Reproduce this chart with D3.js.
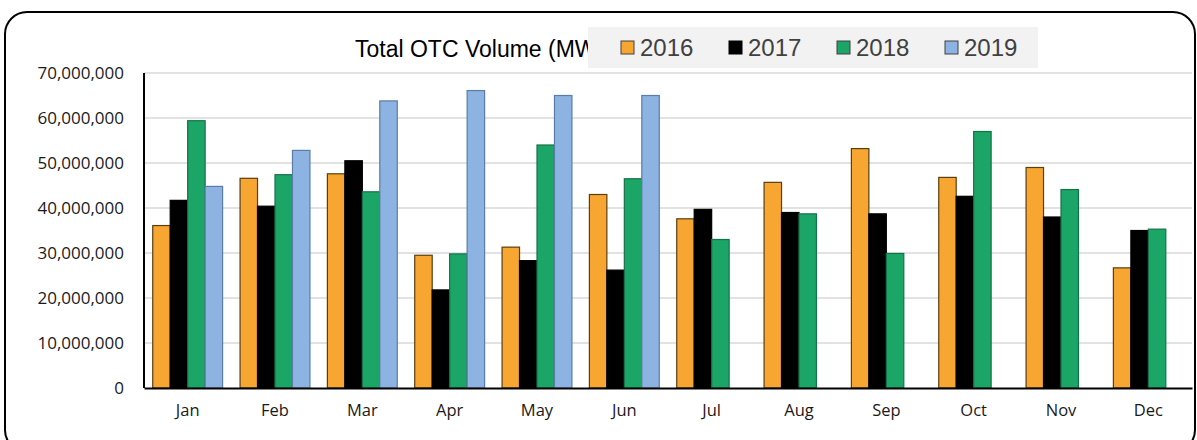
<!DOCTYPE html>
<html>
<head>
<meta charset="utf-8">
<script src="https://cdn.jsdelivr.net/npm/d3@7"></script>
<style>
  body { margin: 0; background: #fff; }
  svg { display: block; }
</style>
</head>
<body>
<svg id="chart" width="1197" height="440"></svg>
<script>
// data
var months = ["Jan", "Feb", "Mar", "Apr", "May", "Jun", "Jul", "Aug", "Sep", "Oct", "Nov", "Dec"];
var years = ["2016", "2017", "2018", "2019"];
var v2016 = [36.1, 46.6, 47.6, 29.5, 31.3, 43.0, 37.6, 45.7, 53.2, 46.8, 49.0, 26.7];
var v2017 = [41.7, 40.4, 50.5, 21.8, 28.3, 26.2, 39.7, 39.0, 38.7, 42.6, 38.0, 35.0];
var v2018 = [59.4, 47.4, 43.6, 29.8, 54.0, 46.5, 33.0, 38.7, 29.9, 57.0, 44.1, 35.3];
var v2019 = [44.8, 52.8, 63.8, 66.1, 65.0, 65.0, null, null, null, null, null, null];
var yTicks = [0, 10e6, 20e6, 30e6, 40e6, 50e6, 60e6, 70e6];

var colors = ["#F7A731", "#000000", "#1BA566", "#8DB3E2"];
var strokes = ["#5a3e10", "#000000", "#14724a", "#5b7ca6"];

var svg = d3.select("#chart");
var margin = {top: 73, left: 144, right: 5, bottom: 52};
var width = 1197 - margin.left - margin.right,
    height = 440 - margin.top - margin.bottom;

// outer frame
svg.append("rect")
    .attr("x", 5).attr("y", 12)
    .attr("width", 1190).attr("height", 440)
    .attr("rx", 22).attr("ry", 22)
    .attr("fill", "#fff")
    .attr("stroke", "#000").attr("stroke-width", 2);

var g = svg.append("g").attr("transform", "translate(" + margin.left + "," + margin.top + ")");

var x0 = d3.scaleBand().domain(months).range([0, width]).paddingInner(0.2).paddingOuter(0.1);
var x1 = d3.scaleBand().domain(years).range([0, x0.bandwidth()]);
var y = d3.scaleLinear().domain([0, 70e6]).range([height, 0]);

// gridlines
g.append("g")
    .selectAll("line")
    .data(yTicks.slice(1))
    .enter().append("line")
    .attr("x1", 0).attr("x2", width)
    .attr("y1", function(d) { return y(d); })
    .attr("y2", function(d) { return y(d); })
    .attr("stroke", "#d9d9d9").attr("stroke-width", 1.5);

// y axis labels
var yAxis = g.append("g")
    .call(d3.axisLeft(y).tickValues(yTicks).tickSize(0).tickPadding(20).tickFormat(d3.format(",")));
yAxis.select(".domain").remove();
yAxis.selectAll("text")
    .attr("font-family", "'Open Sans', sans-serif")
    .attr("font-size", "17px")
    .attr("fill", "#1a1a1a");

// bars
var series = [v2016, v2017, v2018, v2019];
var rows = [];
months.forEach(function(m, i) {
    series.forEach(function(s, k) {
        if (s[i] != null) rows.push({month: m, year: years[k], k: k, value: s[i] * 1e6});
    });
});

g.append("g")
    .selectAll("rect")
    .data(rows)
    .enter().append("rect")
    .attr("x", function(d) { return x0(d.month) + x1(d.year); })
    .attr("y", function(d) { return y(d.value); })
    .attr("width", x1.bandwidth())
    .attr("height", function(d) { return height - y(d.value); })
    .attr("fill", function(d) { return colors[d.k]; })
    .attr("stroke", function(d) { return strokes[d.k]; })
    .attr("stroke-width", 1.2);

// x axis
var xAxis = g.append("g")
    .attr("transform", "translate(0," + height + ")")
    .call(d3.axisBottom(x0).tickSize(0).tickPadding(16));
xAxis.select(".domain").attr("stroke", "#000").attr("stroke-width", 2);
xAxis.selectAll("text")
    .attr("font-family", "'Open Sans', sans-serif")
    .attr("font-size", "16.5px")
    .attr("fill", "#1a1a1a");

// y axis line
g.append("line")
    .attr("x1", 0).attr("x2", 0).attr("y1", 0).attr("y2", height)
    .attr("stroke", "#000").attr("stroke-width", 2);

// title
svg.append("text")
    .attr("x", 355).attr("y", 57)
    .attr("font-family", "'Liberation Sans Narrow', 'Liberation Sans', sans-serif")
    .attr("font-size", "23px")
    .attr("fill", "#000")
    .text("Total OTC Volume (MWh)");

// legend
var leg = svg.append("g");
leg.append("rect")
    .attr("x", 588).attr("y", 27).attr("width", 450).attr("height", 41)
    .attr("fill", "#f2f2f2");
var items = leg.selectAll("g.item")
    .data(years)
    .enter().append("g")
    .attr("transform", function(d, i) { return "translate(" + (621 + i * 108) + ",0)"; });
items.append("rect")
    .attr("x", 0).attr("y", 41).attr("width", 13).attr("height", 13)
    .attr("fill", function(d, i) { return colors[i]; })
    .attr("stroke", function(d, i) { return i == 1 ? "#000" : "#404040"; })
    .attr("stroke-width", 1);
items.append("text")
    .attr("x", 19).attr("y", 56)
    .attr("font-family", "'Liberation Sans', sans-serif")
    .attr("font-size", "24px")
    .attr("fill", "#404040")
    .text(function(d) { return d; });
</script>
</body>
</html>
